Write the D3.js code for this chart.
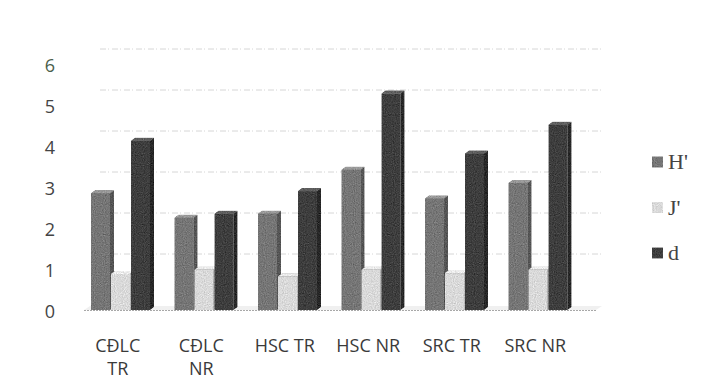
<!DOCTYPE html>
<html>
<head>
<meta charset="utf-8">
<script src="https://cdn.jsdelivr.net/npm/d3@7"></script>
<style>
  body { margin: 0; background: #fff; }
  svg { display: block; }
</style>
</head>
<body>
<svg id="chart" width="710" height="379"></svg>
<script>
// Diversity indices per site
const categories = ["CĐLC TR", "CĐLC NR", "HSC TR", "HSC NR", "SRC TR", "SRC NR"];
const series = ["H'", "J'", "d"];
const hValues = [2.85, 2.25, 2.35, 3.42, 2.72, 3.10];
const jValues = [0.88, 0.98, 0.82, 0.98, 0.90, 0.98];
const dValues = [4.13, 2.35, 2.90, 5.28, 3.82, 4.52];
const yTicks = [0, 1, 2, 3, 4, 5, 6];

const valuesBySeries = { "H'": hValues, "J'": jValues, "d": dValues };
const shades = {
  "H'": { front: "#767676", side: "#565656", top: "#9a9a9a" },
  "J'": { front: "#dadada", side: "#b6b6b6", top: "#ededed" },
  "d":  { front: "#3e3e3e", side: "#282828", top: "#5e5e5e" }
};

const svg = d3.select("#chart");

// grain filter for the column surfaces
const defs = svg.append("defs");
const f = defs.append("filter").attr("id", "grain")
  .attr("x", 0).attr("y", 0).attr("width", 1).attr("height", 1)
  .attr("color-interpolation-filters", "sRGB");
f.append("feTurbulence").attr("type", "fractalNoise")
  .attr("baseFrequency", 0.9).attr("numOctaves", 1).attr("seed", 3).attr("result", "noise");
f.append("feColorMatrix").attr("in", "noise").attr("type", "matrix")
  .attr("values", "0.33 0.33 0.33 0 0  0.33 0.33 0.33 0 0  0.33 0.33 0.33 0 0  0 0 0 0 1")
  .attr("result", "gray");
f.append("feComposite").attr("in", "SourceGraphic").attr("in2", "gray")
  .attr("operator", "arithmetic").attr("k1", 0).attr("k2", 1).attr("k3", 0.5).attr("k4", -0.25)
  .attr("result", "mix");
f.append("feComposite").attr("in", "mix").attr("in2", "SourceGraphic").attr("operator", "in");

const baseY = 310;
const y = d3.scaleLinear().domain([0, 6]).range([baseY, baseY - 246]);
const x = d3.scaleBand().domain(categories).range([76, 577]);
const xs = d3.scaleBand().domain(series).range([15, 75]);

const depthX = 4, depthY = 3;
const wallShift = 15;

// back-wall gridlines
svg.append("g")
  .selectAll("line")
  .data(yTicks.filter(v => v > 0))
  .join("line")
  .attr("x1", 100).attr("x2", 602)
  .attr("y1", d => y(d) - wallShift).attr("y2", d => y(d) - wallShift)
  .attr("stroke", "#d6d6d6").attr("stroke-width", 1)
  .attr("stroke-dasharray", "6 2 1 3");

// floor
svg.append("polygon")
  .attr("points", [[84, baseY], [596, baseY], [602, baseY - 4], [90, baseY - 4]].map(p => p.join(",")).join(" "))
  .attr("fill", "#f0f0f0");
svg.append("line")
  .attr("x1", 84).attr("x2", 596).attr("y1", baseY + 0.5).attr("y2", baseY + 0.5)
  .attr("stroke", "#a8a8a8").attr("stroke-dasharray", "2 1");

// y axis labels
const yAxis = d3.axisLeft(y).tickValues(yTicks).tickSize(0).tickPadding(0).tickFormat(d3.format("d"));
const gy = svg.append("g").attr("transform", "translate(55,2)").call(yAxis);
gy.select(".domain").remove();
gy.selectAll("text")
  .attr("font-family", "'Open Sans', sans-serif")
  .attr("font-size", 18)
  .attr("fill", d => d === 6 ? "#4b5e4b" : "#444");

// x axis labels, wrapped onto two lines when wider than the band
const xAxis = d3.axisBottom(x).tickSize(0).tickPadding(0);
const gx = svg.append("g").attr("transform", "translate(0,339)").call(xAxis);
gx.select(".domain").remove();
gx.selectAll("text")
  .attr("font-family", "'Open Sans', sans-serif")
  .attr("font-size", 18)
  .attr("fill", "#3a3a3a")
  .each(function(d) {
    if (this.getComputedTextLength() <= 68) return;
    const t = d3.select(this).text(null);
    d.split(" ").forEach((word, i) => {
      t.append("tspan")
        .attr("x", 0)
        .attr("y", i * 23)
        .attr("dy", "0.71em")
        .text(word);
    });
  });

// 3D columns
const bars = svg.append("g").attr("filter", "url(#grain)");
const barW = 19;
categories.forEach((cat, ci) => {
  series.forEach(s => {
    const v = valuesBySeries[s][ci];
    const x0 = x(cat) + xs(s);
    const yt = y(v);
    const g = bars.append("g");
    const c = shades[s];
    g.append("polygon")
      .attr("points", [[x0 + barW, yt], [x0 + barW + depthX, yt - depthY], [x0 + barW + depthX, baseY - depthY], [x0 + barW, baseY]].map(p => p.join(",")).join(" "))
      .attr("fill", c.side);
    g.append("polygon")
      .attr("points", [[x0, yt], [x0 + depthX, yt - depthY], [x0 + barW + depthX, yt - depthY], [x0 + barW, yt]].map(p => p.join(",")).join(" "))
      .attr("fill", c.top);
    g.append("rect")
      .attr("x", x0).attr("y", yt).attr("width", barW).attr("height", baseY - yt)
      .attr("fill", c.front);
  });
});

// legend
const legendY = d3.scalePoint().domain(series).range([162, 253]);
const lg = svg.append("g");
lg.selectAll("rect").data(series).join("rect")
  .attr("x", 652).attr("y", d => legendY(d) - 5.5).attr("width", 11).attr("height", 11)
  .attr("fill", d => shades[d].front).attr("filter", "url(#grain)");
lg.selectAll("text").data(series).join("text")
  .attr("x", 668).attr("y", d => legendY(d) + 7)
  .attr("font-family", "'Liberation Serif', serif")
  .attr("font-size", 22)
  .attr("fill", "#444")
  .text(d => d);
</script>
</body>
</html>
